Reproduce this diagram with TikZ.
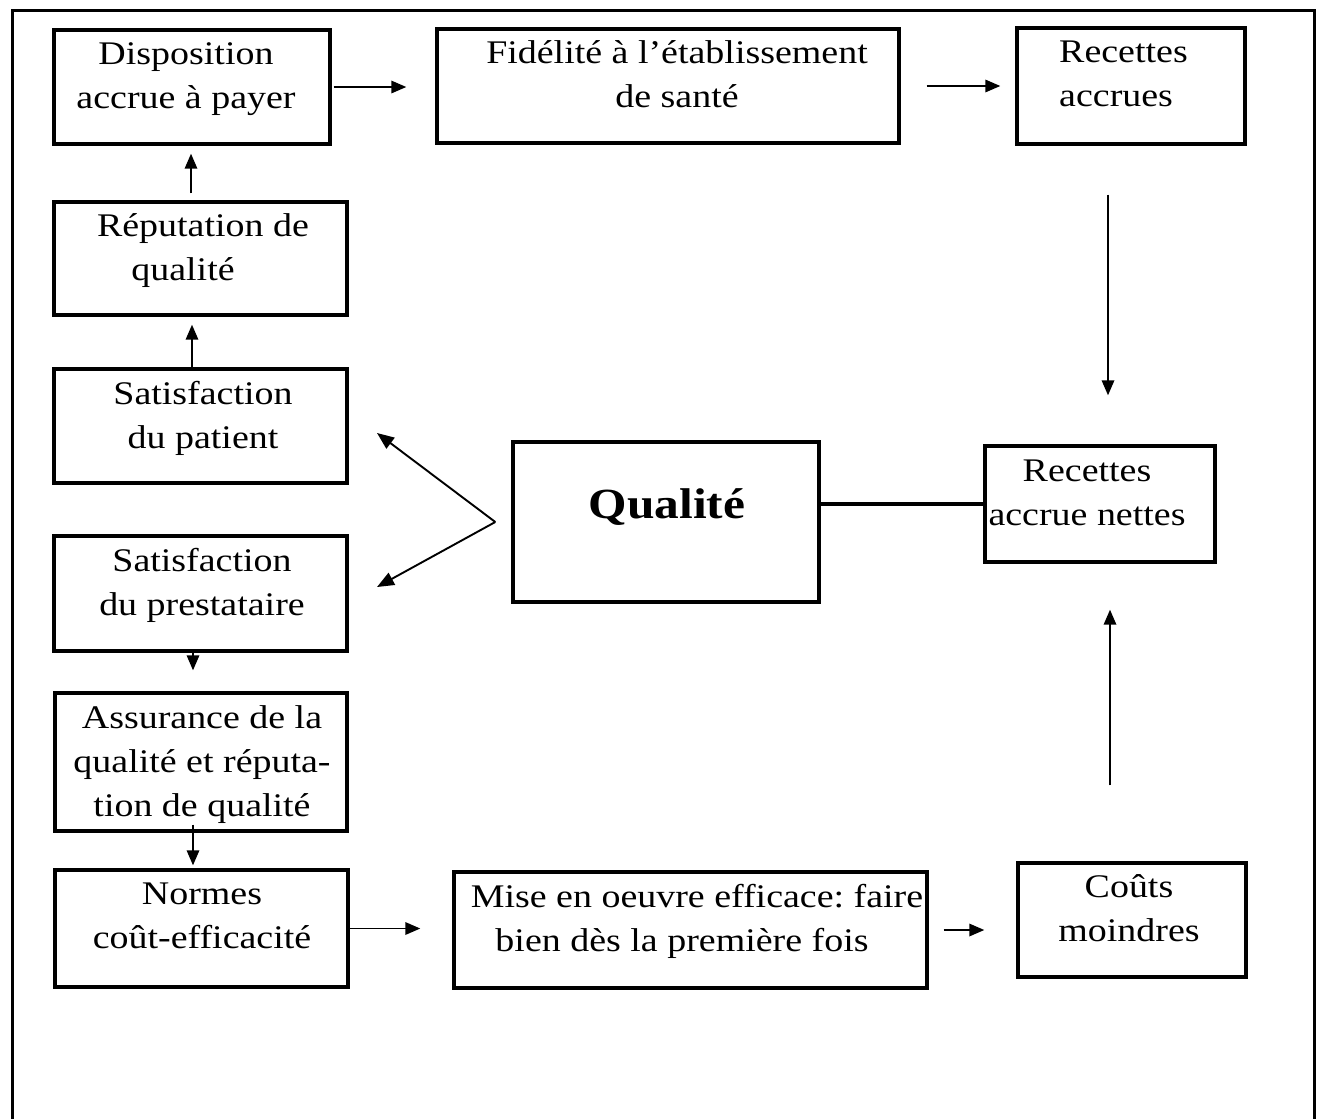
\documentclass[tikz,border=0pt]{standalone}
\usepackage{fontspec}
\setmainfont{Liberation Serif}[FakeStretch=1.15]
\usetikzlibrary{arrows.meta}
\frenchspacing
\begin{document}
\begin{tikzpicture}[x=1pt,y=-1pt,
  box/.style={draw, line width=3.4pt, inner sep=0pt},
  txt/.style={font=\fontsize{33pt}{44pt}\selectfont, align=center, inner sep=0pt},
  arr/.style={line width=1.7pt, -{Triangle[length=15pt,width=12.5pt]}},
  qarr/.style={line width=1.9pt, -{Triangle[length=17pt,width=13.5pt]}}]
\useasboundingbox (0,0) rectangle (1324,1119);
% outer frame (open at the bottom)
\draw[line width=3pt] (12,1119) -- (12,10) -- (1314,10) -- (1314,1119);

% boxes
\node[box, minimum width=276, minimum height=114] (dis) at (192,87) {};
\node[box, minimum width=462, minimum height=114] (fid) at (668,86) {};
\node[box, minimum width=228, minimum height=116] (ra) at (1131,86) {};
\node[box, minimum width=293, minimum height=113] (rep) at (200.5,258.5) {};
\node[box, minimum width=293, minimum height=114] (sp) at (200.5,426) {};
\node[box, minimum width=293, minimum height=115] (spr) at (200.5,593.5) {};
\node[box, minimum width=292, minimum height=138] (ass) at (201,762) {};
\node[box, minimum width=293, minimum height=117] (nor) at (201.5,928.5) {};
\node[box, minimum width=473, minimum height=116] (mise) at (690.5,930) {};
\node[box, minimum width=228, minimum height=114] (cou) at (1132,920) {};
\node[box, minimum width=306, minimum height=160] (qua) at (666,522) {};
\node[box, minimum width=230, minimum height=116] (rn) at (1100,504) {};

% texts
\node[txt] (disT) at (186,78) {\strut Disposition\\\strut accrue à payer};
\node[txt] (fidT) at (677,77) {\strut Fidélité à l’établissement\\\strut de santé};
\node[txt, align=left, anchor=west] (raT) at (1059,76) {\strut Recettes\\\strut accrues};
\node[txt] (repT) at (203,250) {\strut Réputation de\\\strut qualité\hspace*{40pt}};
\node[txt] (spT) at (203,418) {\strut Satisfaction\\\strut du patient};
\node[txt] (sprT) at (202,585) {\strut Satisfaction\\\strut du prestataire};
\node[txt] (assT) at (202,764) {\strut Assurance de la\\\strut qualité et réputa-\\\strut tion de qualité};
\node[txt] (norT) at (202,918) {\strut Normes\\\strut coût-efficacité};
\node[txt] (miseT) at (697,921) {\strut Mise en oeuvre efficace: faire\\\strut bien dès la première fois\hspace*{30pt}};
\node[txt] (couT) at (1129,911) {\strut Coûts\\\strut moindres};
\node[txt] (rnT) at (1087,495) {\strut Recettes\\\strut accrue nettes};
\node[font=\fontsize{43pt}{50pt}\selectfont\bfseries, inner sep=0pt, anchor=base] (quaT) at (667,518) {Qualité};

% connectors
\draw[arr, shorten <=2pt, shorten >=29pt] (dis.east) -- (dis.east -| fid.west);
\draw[arr, shorten <=26pt, shorten >=15pt] (fid.east) -- (fid.east -| ra.west);
\draw[arr, shorten <=49pt, shorten >=49pt] ([xshift=-23pt]ra.south) -- ([xshift=-23pt]ra.south |- rn.north);
\draw[arr, shorten <=76pt, shorten >=46pt] ([xshift=-22pt]cou.north) -- ([xshift=-22pt]cou.north |- rn.south);
\draw[line width=3.4pt] (rn.west -| qua.east) -- (rn.west);
\draw[arr, shorten <=7pt, shorten >=8pt] ([xshift=-9.5pt]rep.north) -- ([xshift=-9.5pt]rep.north |- dis.south);
\draw[arr, shorten >=8pt] ([xshift=-8.5pt]sp.north) -- ([xshift=-8.5pt]sp.north |- rep.south);
\draw[arr, shorten >=21pt] ([xshift=-7.5pt]spr.south) -- ([xshift=-7.5pt]spr.south |- ass.north);
\draw[arr, shorten <=-8pt, shorten >=3pt] ([xshift=-8pt]ass.south) -- ([xshift=-8pt]ass.south |- nor.north);
\draw[arr, shorten >=32pt] (nor.east) -- (nor.east -| mise.west);
\draw[arr, shorten <=15pt, shorten >=32pt] (mise.east) -- (mise.east -| cou.west);

\coordinate (apex) at ([xshift=-16pt]qua.west);
\coordinate (tipA) at (377,433);
\coordinate (tipB) at (377,587);
\draw[qarr] (apex) -- (tipA);
\draw[qarr] (apex) -- (tipB);
\end{tikzpicture}
\end{document}
